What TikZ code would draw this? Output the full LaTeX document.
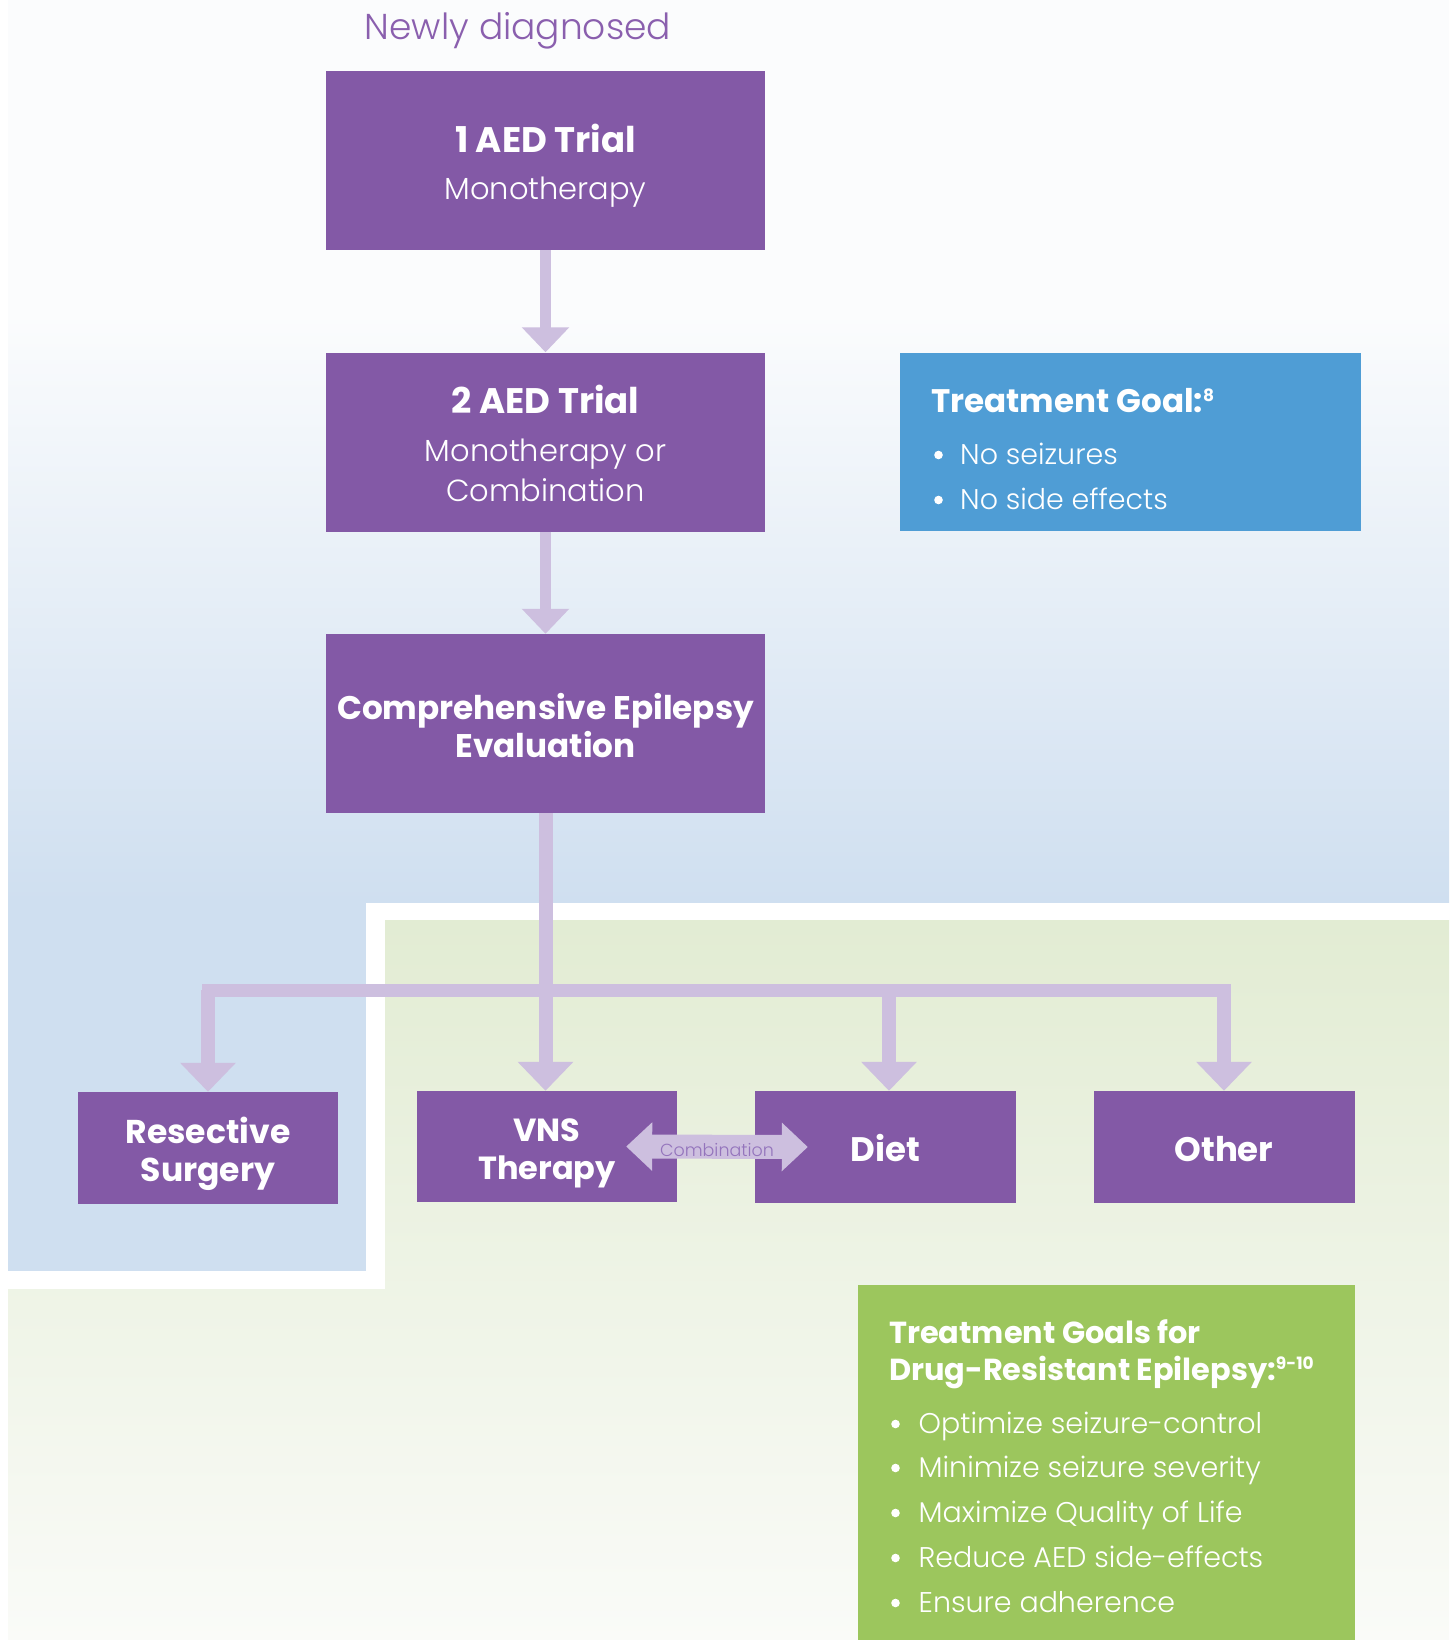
\documentclass[tikz,border=0pt]{standalone}
\usepackage{fontspec}
\setmainfont{Poppins}
\newfontfamily\plight{Poppins Light}
\newfontfamily\pbold{Poppins Bold}
\usetikzlibrary{arrows.meta}
\definecolor{purp}{RGB}{131,89,166}
\definecolor{lav}{RGB}{205,191,223}
\definecolor{bluebox}{RGB}{79,157,213}
\definecolor{greenbox}{RGB}{156,198,93}
\definecolor{titlepurp}{RGB}{138,95,174}
\definecolor{combtext}{RGB}{148,116,188}
\definecolor{bgblue}{RGB}{207,223,240}
\definecolor{bgtop}{RGB}{251,252,253}
\definecolor{bggreen}{RGB}{226,236,211}
\definecolor{bggreenlow}{RGB}{250,251,248}
\newcommand{\fs}[1]{\fontsize{#1}{#1}\selectfont}
\begin{document}
\begin{tikzpicture}[x=1pt,y=-1pt,
  box/.style={fill=purp, draw=none, inner sep=0pt, minimum width=439pt, minimum height=179pt},
  smallbox/.style={fill=purp, draw=none, inner sep=0pt, minimum width=261pt, minimum height=112pt},
  btxt/.style={text=white, anchor=base, inner sep=0pt, font=\pbold\fs{32.7}},
  ltxt/.style={text=white, anchor=base, inner sep=0pt, font=\plight\fs{30.5}},
  gtxt/.style={text=white, anchor=base west, inner sep=0pt, font=\plight\fs{28.5}},
  dot/.style={fill=white, draw=none},
  conn/.style={draw=lav, line width=13pt},
  arrtop/.style={draw=lav, line width=11pt, -{Triangle[width=46pt,length=25pt]}},
  arrbot/.style={draw=lav, line width=14pt, -{Triangle[width=54pt,length=29pt]}}
]
\useasboundingbox (0,0) rectangle (1453,1640);
% backgrounds
\fill[bgtop] (8,0) rectangle (1449,314);
\shade[top color=bgtop, bottom color=bgblue] (8,313) rectangle (1449,902);
\fill[bgblue] (8,901) rectangle (366,1271);
\shade[top color=bggreen, bottom color=bggreenlow] (385,920) -- (1449,920) -- (1449,1640) -- (8,1640) -- (8,1289) -- (385,1289) -- cycle;

% title
\node[anchor=base, inner sep=0pt, text=titlepurp, font=\plight\fs{36}] (title) at (518,40) {Newly diagnosed};

% main boxes
\node[box] (b1) at (545.5,160.5) {};
\node[box] (b2) at (545.5,442) {};
\node[box] (b3) at (545.5,723.5) {};
\node[btxt, font=\pbold\fs{35.5}] (b1a) at (545.5,153) {1 AED Trial};
\node[ltxt] (b1b) at (545.5,200) {Monotherapy};
\node[btxt, font=\pbold\fs{35.5}] (b2a) at (545.5,413) {2 AED Trial};
\node[ltxt] (b2b) at (545.5,461) {Monotherapy or};
\node[ltxt] (b2c) at (545.5,501) {Combination};
\node[btxt] (b3a) at (545.5,719) {Comprehensive Epilepsy};
\node[btxt] (b3b) at (545.5,757) {Evaluation};

% blue goal box
\node[fill=bluebox, inner sep=0pt, minimum width=461pt, minimum height=178.5pt] (goal) at (1130.5,442) {};
\node[anchor=base west, inner sep=0pt, text=white, font=\pbold\fs{32.6}] (goalt) at (931,412) {Treatment Goal:\raisebox{0.33em}{\fs{17}8}};
\fill[dot] (938.5,455) circle (4.3pt);
\fill[dot] (938.5,500) circle (4.3pt);
\node[gtxt] (goal1) at (960,464) {No seizures};
\node[gtxt] (goal2) at (960,509) {No side effects};

% bottom boxes
\node[smallbox, minimum width=260pt] (res) at (208,1148) {};
\node[smallbox, minimum width=260pt, minimum height=111pt] (vns) at (547,1146.5) {};
\node[smallbox] (diet) at (885.5,1147) {};
\node[smallbox] (other) at (1224,1147) {};
\node[btxt, font=\pbold\fs{33}] (resa) at (208,1143) {Resective};
\node[btxt, font=\pbold\fs{33}] (resb) at (208,1181) {Surgery};
\node[btxt, font=\pbold\fs{32}] (vnsa) at (547,1141) {VNS};
\node[btxt, font=\pbold\fs{32}] (vnsb) at (547,1179) {Therapy};
\node[btxt, font=\pbold\fs{34}] (dieta) at (885.5,1161) {Diet};
\node[btxt, font=\pbold\fs{34}] (othera) at (1224,1161) {Other};

% connectors
\draw[arrtop] (b1.south) -- (b2.north);
\draw[arrtop] (b2.south) -- (b3.north);
\coordinate (barL) at (208,990);
\coordinate (barR) at (1224,990);
\coordinate (barD) at (889,990);
\draw[conn, line cap=rect] (barL) -- (barR);
\draw[arrbot] (b3.south) -- (b3.south |- vns.north);
\draw[arrbot] (barL) -- (res.north);
\draw[arrbot] (barD) -- (barD |- diet.north);
\draw[arrbot] (barR) -- (barR |- other.north);

% combination double arrow
\coordinate (combL) at ([xshift=-51pt]vns.east);
\coordinate (combR) at ([xshift=53pt]diet.west);
\draw[draw=lav, line width=24pt, {Triangle[width=47pt,length=26pt]}-{Triangle[width=47pt,length=26pt]}] (combL) -- (combR);
\node[inner sep=0pt, text=combtext, font=\plight\fs{17.5}] (comb) at (717,1150) {Combination};

% green box
\node[fill=greenbox, inner sep=0pt, minimum width=497pt, minimum height=355pt] (dre) at (1106.5,1462.5) {};
\node[anchor=base west, inner sep=0pt, text=white, font=\pbold\fs{30.4}] (dret1) at (889,1343) {Treatment Goals for};
\node[anchor=base west, inner sep=0pt, text=white, font=\pbold\fs{30.4}] (dret2) at (889,1380) {Drug-Resistant Epilepsy:\raisebox{0.33em}{\fs{17}9-10}};
\foreach \yy in {1424,1468,1513,1558,1603} \fill[dot] (895.5,\yy) circle (4.3pt);
\node[gtxt] (dre1) at (918.5,1433) {Optimize seizure-control};
\node[gtxt] (dre2) at (918.5,1477) {Minimize seizure severity};
\node[gtxt] (dre3) at (918.5,1522) {Maximize Quality of Life};
\node[gtxt] (dre4) at (918.5,1567) {Reduce AED side-effects};
\node[gtxt] (dre5) at (918.5,1612) {Ensure adherence};
\end{tikzpicture}
\end{document}
